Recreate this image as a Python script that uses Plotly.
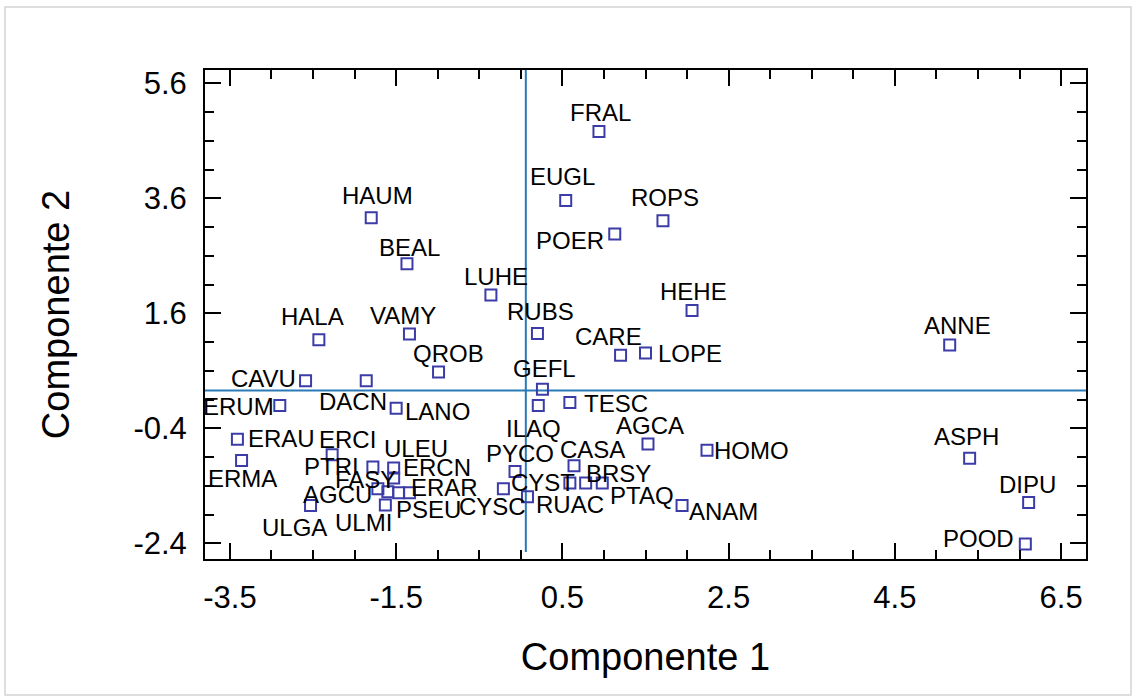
import plotly.graph_objects as go

# ---- data ----
names = ["FRAL", "EUGL", "ROPS", "POER", "HAUM", "BEAL", "LUHE", "HEHE", "HALA", "VAMY",
         "RUBS", "CARE", "LOPE", "ANNE", "QROB", "GEFL", "CAVU", "DACN", "ERUM", "LANO",
         "ILAQ", "TESC", "AGCA", "HOMO", "ASPH", "ERAU", "ERCI", "ULEU", "CASA", "PYCO",
         "ERMA", "PTRI", "ERCN", "AGCU", "FASY", "PSEU", "ERAR", "ULMI", "ULGA", "CYST",
         "BRSY", "PTAQ", "CYSC", "RUAC", "ANAM", "DIPU", "POOD"]
comp1 = [0.94, 0.54, 1.71, 1.13, -1.80, -1.37, -0.36, 2.06, -2.43, -1.34,
         0.20, 1.20, 1.50, 5.16, -0.99, 0.26, -2.59, -1.86, -2.90, -1.50,
         0.21, 0.59, 1.53, 2.24, 5.40, -3.41, -2.27, -1.53, 0.64, -0.07,
         -3.36, -1.78, -1.53, -1.72, -1.60, -1.47, -1.34, -1.63, -2.53, 0.59,
         0.78, 0.98, -0.21, 0.08, 1.94, 6.11, 6.07]
comp2 = [4.76, 3.56, 3.21, 2.98, 3.26, 2.46, 1.92, 1.65, 1.14, 1.24,
         1.25, 0.87, 0.91, 1.05, 0.58, 0.28, 0.43, 0.43, 0.00, -0.05,
         0.00, 0.05, -0.67, -0.78, -0.92, -0.59, -0.86, -1.09, -1.05, -1.15,
         -0.96, -1.07, -1.26, -1.45, -1.50, -1.52, -1.52, -1.73, -1.74, -1.35,
         -1.35, -1.35, -1.45, -1.59, -1.74, -1.69, -2.41]

x_ticks = [-3.5, -1.5, 0.5, 2.5, 4.5, 6.5]
y_ticks = [-2.4, -0.4, 1.6, 3.6, 5.6]
ref_x = 0.06
ref_y = 0.26

# ---- label placement (pixel offsets from marker: dx right, dy down) ----
label_offsets = {
    "FRAL": (2, -19), "EUGL": (-3, -24), "ROPS": (2, -23), "POER": (-45, 7),
    "HAUM": (6, -22), "BEAL": (3, -16), "LUHE": (5, -18), "HEHE": (1, -19),
    "HALA": (-6, -23), "VAMY": (-6, -19), "RUBS": (3, -22), "CARE": (-12, -19),
    "LOPE": (44, 0), "ANNE": (8, -19), "QROB": (10, -19), "GEFL": (2, -21),
    "CAVU": (-42, -2), "DACN": (-13, 21), "ERUM": (-41, 1), "LANO": (41, 3),
    "ILAQ": (-5, 23), "TESC": (46, 1), "AGCA": (2, -18), "HOMO": (44, 0),
    "ASPH": (-3, -22), "ERAU": (44, -1), "ERCI": (15, -15), "ULEU": (22, -20),
    "CASA": (18, -16), "PYCO": (5, -18), "ERMA": (1, 18), "PTRI": (-41, 0),
    "ERCN": (43, -10), "AGCU": (-40, 6), "FASY": (-22, -12), "PSEU": (30, 17),
    "ERAR": (35, -5), "ULMI": (-22, 18), "ULGA": (-16, 22), "CYST": (-27, -1),
    "BRSY": (33, -10), "PTAQ": (40, 12), "CYSC": (-11, 18), "RUAC": (43, 8),
    "ANAM": (41, 6), "DIPU": (-1, -18), "POOD": (-47, -6),
}

FONT = "Liberation Sans, Arial, sans-serif"
x_range = [-3.8, 6.8]
y_range = [-2.67, 5.83]

fig = go.Figure()

# reference lines
fig.add_trace(go.Scatter(x=[ref_x, ref_x], y=[-2.55, y_range[1]], mode="lines",
                         line=dict(color="#2a7ab8", width=2), hoverinfo="skip",
                         showlegend=False))
fig.add_trace(go.Scatter(x=x_range, y=[ref_y, ref_y], mode="lines",
                         line=dict(color="#2a7ab8", width=2), hoverinfo="skip",
                         showlegend=False))

fig.add_trace(go.Scatter(
    x=comp1, y=comp2, mode="markers", text=names,
    marker=dict(symbol="square-open", size=11, color="#3c3ca8",
                line=dict(width=2, color="#3c3ca8")),
    showlegend=False))

annotations = []
for n, xv, yv in zip(names, comp1, comp2):
    dx, dy = label_offsets[n]
    annotations.append(dict(x=xv, y=yv, xref="x", yref="y", text=n, showarrow=False,
                            xanchor="center", yanchor="middle", xshift=dx, yshift=-dy,
                            font=dict(family=FONT, size=24, color="black")))

axis_common = dict(showline=True, linecolor="black", linewidth=2, mirror="ticks",
                   ticks="inside", ticklen=16, tickwidth=2, tickcolor="black",
                   showgrid=False, zeroline=False,
                   tickfont=dict(family=FONT, size=31, color="black"))

fig.update_xaxes(range=x_range, tickvals=x_ticks, ticktext=[str(v) for v in x_ticks],
                 minor=dict(ticks="inside", ticklen=9, tickwidth=2, tickcolor="black",
                            dtick=0.5, tick0=-3.5),
                 title=dict(text="Componente 1", font=dict(family=FONT, size=38, color="black"),
                            standoff=29),
                 ticklabelstandoff=10, **axis_common)
fig.update_yaxes(range=y_range, tickvals=y_ticks, ticktext=[str(v) for v in y_ticks],
                 minor=dict(ticks="inside", ticklen=9, tickwidth=2, tickcolor="black",
                            dtick=0.5, tick0=1.6),
                 title=dict(text="Componente 2", font=dict(family=FONT, size=38, color="black"),
                            standoff=52),
                 ticklabelstandoff=10, **axis_common)

# light outer frame of the picture
fig.add_shape(type="rect", xref="paper", yref="paper",
              x0=(5 - 205) / 881, x1=(1131 - 205) / 881,
              y0=(559 - 695) / 489, y1=(559 - 7) / 489,
              line=dict(color="#d4d4d4", width=1.5), layer="below")

fig.update_layout(width=1136, height=700, margin=dict(l=205, r=50, t=70, b=141),
                  plot_bgcolor="white", paper_bgcolor="white",
                  annotations=annotations, font=dict(family=FONT))

fig.write_html("out.html")
